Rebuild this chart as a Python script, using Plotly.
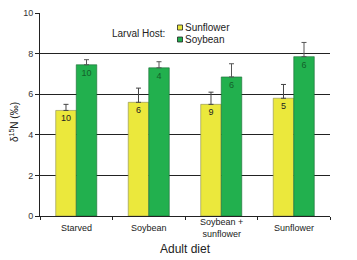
import plotly.graph_objects as go

diet = ["Starved", "Soybean", "Soybean +<br>sunflower", "Sunflower"]
sunflower_mean = [5.2, 5.6, 5.5, 5.8]
sunflower_err = [0.3, 0.7, 0.6, 0.68]
soybean_mean = [7.45, 7.3, 6.85, 7.85]
soybean_err = [0.25, 0.3, 0.65, 0.7]
n_sunflower = ["10", "6", "9", "5"]
n_soybean = ["10", "4", "6", "6"]

YELLOW = "#ebe83c"
GREEN = "#22b04e"
FONT = "Liberation Sans, Arial"

fig = go.Figure()
fig.add_trace(go.Bar(
    x=diet, y=sunflower_mean, name="Sunflower", showlegend=False,
    marker=dict(color=YELLOW, line=dict(color="#8a8a50", width=0.6)),
    error_y=dict(type="data", array=sunflower_err, arrayminus=[0]*4, symmetric=False,
                 color="#444", thickness=1, width=2.5),
    text=n_sunflower, textposition="inside", insidetextanchor="end",
    textfont=dict(family=FONT, size=9, color="#222"),
    textangle=0,
))
fig.add_trace(go.Bar(
    x=diet, y=soybean_mean, name="Soybean", showlegend=False,
    marker=dict(color=GREEN, line=dict(color="#1a6a34", width=0.6)),
    error_y=dict(type="data", array=soybean_err, arrayminus=[0]*4, symmetric=False,
                 color="#555", thickness=1, width=2.5),
    text=n_soybean, textposition="inside", insidetextanchor="end",
    textfont=dict(family=FONT, size=9, color="#14602a"),
    textangle=0,
))

# page has an 8px body margin; plot area spans page x 40-330, y 13-216
def px2paper_x(px):
    return (px - 40) / 290.0

def px2paper_y(py):
    return (216 - py) / 203.0

shapes = [
    dict(type="rect", xref="paper", yref="paper",
         x0=px2paper_x(177.5), x1=px2paper_x(182.5), y0=px2paper_y(30), y1=px2paper_y(25),
         fillcolor=YELLOW, line=dict(color="#222", width=0.8)),
    dict(type="rect", xref="paper", yref="paper",
         x0=px2paper_x(177.5), x1=px2paper_x(182.5), y0=px2paper_y(42), y1=px2paper_y(37),
         fillcolor=GREEN, line=dict(color="#222", width=0.8)),
]
annotations = [
    dict(text="Larval Host:", xref="paper", yref="paper", x=px2paper_x(110), y=px2paper_y(34),
         xanchor="left", yanchor="middle", showarrow=False,
         font=dict(family=FONT, size=10, color="#222")),
    dict(text="Sunflower", xref="paper", yref="paper", x=px2paper_x(183), y=px2paper_y(27.5),
         xanchor="left", yanchor="middle", showarrow=False,
         font=dict(family=FONT, size=10, color="#222")),
    dict(text="Soybean", xref="paper", yref="paper", x=px2paper_x(183), y=px2paper_y(40),
         xanchor="left", yanchor="middle", showarrow=False,
         font=dict(family=FONT, size=10, color="#222")),
    dict(text="Adult diet", xref="paper", yref="paper", x=0.5, y=px2paper_y(248.5),
         xanchor="center", yanchor="middle", showarrow=False,
         font=dict(family=FONT, size=12, color="#222")),
    dict(text="δ<sup>15</sup>N (‰)", xref="paper", yref="paper", x=px2paper_x(14), y=px2paper_y(122),
         xanchor="center", yanchor="middle", showarrow=False, textangle=-90,
         font=dict(family=FONT, size=10, color="#222")),
]
# category labels, vertically centred under the axis (as in the original)
for cat in diet:
    annotations.append(dict(
        text=cat, xref="x", yref="paper", x=cat, y=px2paper_y(227.5),
        xanchor="center", yanchor="middle", showarrow=False,
        font=dict(family=FONT, size=9, color="#222"),
    ))

fig.update_layout(
    width=349, height=252,
    margin=dict(l=32, r=27, t=5, b=44),
    paper_bgcolor="white", plot_bgcolor="white",
    barmode="group", bargap=0.434, bargroupgap=0,
    showlegend=False,
    shapes=shapes, annotations=annotations,
    font=dict(family=FONT, size=9, color="#222"),
)
fig.update_xaxes(
    type="category", automargin=False,
    showline=True, linecolor="#222", linewidth=1,
    ticks="outside", tickson="boundaries", ticklen=3, tickcolor="#222",
    showgrid=False, showticklabels=False,
)
fig.update_yaxes(
    automargin=False,
    range=[0, 10], dtick=2, showline=True, linecolor="#222", linewidth=1,
    ticks="outside", ticklen=4, tickcolor="#222",
    showgrid=True, gridcolor="#222", gridwidth=1, zeroline=False,
    tickfont=dict(size=9, color="#333"),
)

fig.write_html("out.html")
